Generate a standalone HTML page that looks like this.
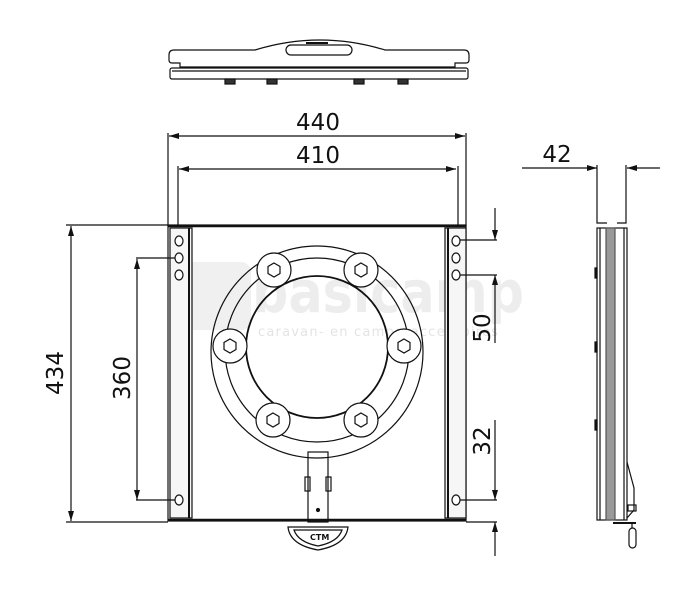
<!DOCTYPE html>
<html><head><meta charset="utf-8"><style>
html,body{margin:0;padding:0;background:#fff;}
svg{display:block;}
text{font-family:"DejaVu Sans","Liberation Sans",sans-serif;fill:#111;}
</style></head><body>
<svg width="695" height="600" viewBox="0 0 695 600" xmlns="http://www.w3.org/2000/svg">
<defs>
<marker id="a" viewBox="0 0 10 6" refX="10" refY="3" markerWidth="10" markerHeight="6" orient="auto-start-reverse" markerUnits="userSpaceOnUse"><path d="M0,0 L10,3 L0,6 z" fill="#111"/></marker>
</defs>
<!-- watermark -->
<rect x="176" y="262" width="75" height="68" rx="10" fill="#f0f0f0"/>
<text x="252" y="312" textLength="272" lengthAdjust="spacingAndGlyphs" style="font-size:58px;fill:#ededed;font-weight:bold">basicamp</text>
<text x="258" y="336" textLength="240" style="font-size:13px;fill:#e4e4e4">caravan- en camperaccessoires</text>
<g fill="none" stroke="#111" stroke-width="1.2">
<!-- top view -->
<path d="M174,50 L255,50 Q320,30 385,50 L464,50 Q469,50 469,55 L469,60 Q469,63 466,63 L455,63 L455,67 L180,67 L180,63 L172,63 Q169,63 169,60 L169,55 Q169,50 174,50 z"/>
<rect x="286" y="45" width="66" height="10" rx="5"/>
<line x1="306" y1="43" x2="328" y2="43" stroke-width="2"/>
<rect x="170" y="68" width="298" height="11" rx="2"/>
<line x1="172" y1="71" x2="466" y2="71"/>
<g fill="#333"><rect x="225" y="79" width="10" height="5"/><rect x="267" y="79" width="10" height="5"/><rect x="354" y="79" width="10" height="5"/><rect x="398" y="79" width="10" height="5"/></g>

<!-- dims 440/410 -->
<line x1="169" y1="136" x2="465" y2="136" marker-start="url(#a)" marker-end="url(#a)"/>
<line x1="168" y1="133" x2="168" y2="226"/><line x1="466" y1="133" x2="466" y2="226"/>
<line x1="179" y1="169" x2="456" y2="169" marker-start="url(#a)" marker-end="url(#a)"/>
<line x1="178" y1="166" x2="178" y2="226"/><line x1="458" y1="166" x2="458" y2="226"/>

<!-- plate -->
<rect x="168" y="225" width="298" height="296"/>
<line x1="168" y1="226" x2="466" y2="226" stroke-width="2.5"/>
<line x1="168" y1="520" x2="466" y2="520" stroke-width="2.5"/>
<rect x="170" y="228" width="22" height="290" fill="#f6f6f6"/>
<line x1="189" y1="228" x2="189" y2="518" stroke-width="2"/>
<rect x="445" y="228" width="21" height="290" fill="#f6f6f6"/>
<line x1="448" y1="228" x2="448" y2="518" stroke-width="2"/>
<g fill="#fff">
<ellipse cx="179" cy="241" rx="4" ry="5"/><ellipse cx="179" cy="258" rx="4" ry="5"/><ellipse cx="179" cy="275" rx="4" ry="5"/><ellipse cx="179" cy="500" rx="4" ry="5"/>
<ellipse cx="456" cy="241" rx="4" ry="5"/><ellipse cx="456" cy="258" rx="4" ry="5"/><ellipse cx="456" cy="275" rx="4" ry="5"/><ellipse cx="456" cy="500" rx="4" ry="5"/>
</g>

<!-- ring -->
<circle cx="317" cy="352" r="106"/>
<circle cx="317" cy="350" r="92"/>
<circle cx="317" cy="347" r="71" stroke-width="1.8"/>
<g fill="#fff">
<circle cx="274" cy="270" r="17"/><circle cx="361" cy="270" r="17"/>
<circle cx="230" cy="346" r="17"/><circle cx="404" cy="346" r="17"/>
<circle cx="273" cy="420" r="17"/><circle cx="361" cy="420" r="17"/>
</g>
<g>
<polygon points="274,263 280,266.5 280,273.5 274,277 268,273.5 268,266.5"/>
<polygon points="361,263 367,266.5 367,273.5 361,277 355,273.5 355,266.5"/>
<polygon points="230,339 236,342.5 236,349.5 230,353 224,349.5 224,342.5"/>
<polygon points="404,339 410,342.5 410,349.5 404,353 398,349.5 398,342.5"/>
<polygon points="273,413 279,416.5 279,423.5 273,427 267,423.5 267,416.5"/>
<polygon points="361,413 367,416.5 367,423.5 361,427 355,423.5 355,416.5"/>
</g>
<!-- stem -->
<rect x="308" y="452" width="20" height="70"/>
<rect x="305" y="477" width="5" height="14"/><rect x="326" y="477" width="5" height="14"/>
<circle cx="318" cy="510" r="1.5" fill="#111"/>
<path d="M288,527 L348,527 Q346,545 318,550 Q290,545 288,527 z"/>
<path d="M294,530 L342,530 Q338,542 318,546 Q298,542 294,530 z"/>
<text x="310" y="540" style="font-size:8px;font-weight:bold;stroke:none">CTM</text>

<!-- left dims -->
<line x1="71" y1="226" x2="71" y2="521" marker-start="url(#a)" marker-end="url(#a)"/>
<line x1="66" y1="225" x2="168" y2="225"/><line x1="66" y1="522" x2="168" y2="522"/>
<line x1="137" y1="259" x2="137" y2="500" marker-start="url(#a)" marker-end="url(#a)"/>
<line x1="136" y1="258" x2="175" y2="258"/><line x1="136" y1="500" x2="175" y2="500"/>

<!-- right dims -->
<line x1="460" y1="240" x2="497" y2="240"/>
<line x1="495" y1="208" x2="495" y2="240" marker-end="url(#a)"/>
<line x1="460" y1="275" x2="497" y2="275"/>
<line x1="495" y1="343" x2="495" y2="275" marker-end="url(#a)"/>
<line x1="495" y1="420" x2="495" y2="500" marker-end="url(#a)"/>
<line x1="460" y1="500" x2="497" y2="500"/>
<line x1="466" y1="522" x2="497" y2="522"/>
<line x1="495" y1="556" x2="495" y2="522" marker-end="url(#a)"/>

<!-- side view -->
<line x1="522" y1="168" x2="597" y2="168" marker-end="url(#a)"/>
<line x1="660" y1="168" x2="627" y2="168" marker-end="url(#a)"/>
<path d="M597,165 L597,223 L607,223 M617,223 L626,223 L626,165"/>
<rect x="597" y="228" width="14" height="292"/>
<rect x="613" y="228" width="14" height="292"/>
<rect x="606" y="228" width="9" height="292" fill="#999" stroke="#555"/>
<line x1="600" y1="228" x2="600" y2="520"/><line x1="624" y1="228" x2="624" y2="520"/>
<path d="M595,268 L597,268 L597,278 L595,278 z M595,342 L597,342 L597,352 L595,352 z M595,420 L597,420 L597,430 L595,430 z" fill="#111"/>
<path d="M627,462 L634,488 L634,510 L627,518"/>
<rect x="628" y="505" width="8" height="6"/>
<line x1="613" y1="523" x2="636" y2="523" stroke-width="2"/>
<rect x="629" y="528" width="7" height="20" rx="3.5"/>
<line x1="632" y1="523" x2="632" y2="528"/>
</g>
<!-- labels -->
<text x="318" y="130" text-anchor="middle" style="font-size:23px">440</text>
<text x="318" y="163" text-anchor="middle" style="font-size:23px">410</text>
<text x="557" y="162" text-anchor="middle" style="font-size:23px">42</text>
<text transform="translate(63,373) rotate(-90)" text-anchor="middle" style="font-size:23px">434</text>
<text transform="translate(130,378) rotate(-90)" text-anchor="middle" style="font-size:23px">360</text>
<text transform="translate(490,328) rotate(-90)" text-anchor="middle" style="font-size:23px">50</text>
<text transform="translate(490,441) rotate(-90)" text-anchor="middle" style="font-size:23px">32</text>
</svg>
</body></html>
